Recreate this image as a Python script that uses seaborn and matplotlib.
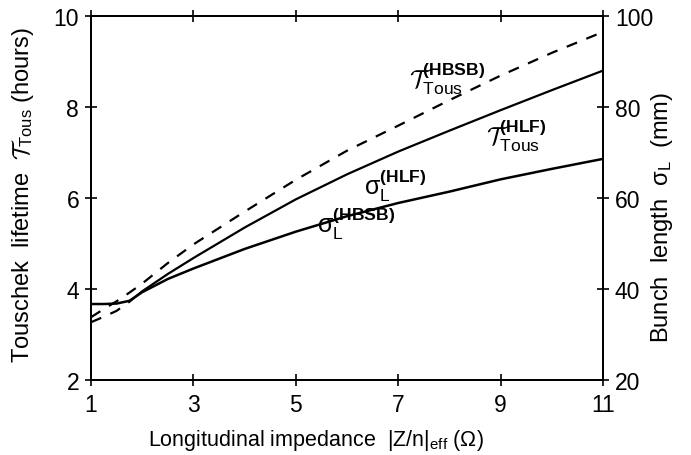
import matplotlib
matplotlib.use("Agg")
import matplotlib.pyplot as plt
import seaborn as sns
import pandas as pd

# ---- data ----
impedance = [1, 1.25, 1.5, 1.75, 2, 2.5, 3, 4, 5, 6, 7, 8, 9, 10, 11]
tau_hbsb = [3.38, 3.56, 3.73, 3.92, 4.12, 4.57, 4.98, 5.70, 6.40, 7.04, 7.59, 8.15, 8.69, 9.19, 9.65]
tau_hlf = [3.27, 3.39, 3.52, 3.72, 3.95, 4.33, 4.68, 5.35, 5.97, 6.52, 7.02, 7.48, 7.93, 8.37, 8.80]
sigma_mm = [36.7, 36.7, 36.8, 37.4, 39.3, 42.2, 44.5, 48.8, 52.6, 56.0, 58.9, 61.4, 64.1, 66.4, 68.6]
below_threshold = 4  # first points of tau_hlf drawn dashed (indices 0..3)

x_ticks = [1, 3, 5, 7, 9, 11]
y_left_ticks = [2, 4, 6, 8, 10]
y_right_ticks = [20, 40, 60, 80, 100]

sns.set_style("ticks")
plt.rcParams["font.family"] = ["Liberation Sans", "DejaVu Sans"]
plt.rcParams["mathtext.fontset"] = "custom"
plt.rcParams["mathtext.rm"] = "Liberation Sans"
plt.rcParams["mathtext.it"] = "Liberation Sans:italic"
plt.rcParams["mathtext.bf"] = "Liberation Sans:bold"
plt.rcParams["mathtext.cal"] = "cmsy10"
plt.rcParams["text.color"] = "black"
plt.rcParams["axes.labelcolor"] = "black"
plt.rcParams["xtick.color"] = "black"
plt.rcParams["ytick.color"] = "black"

fig = plt.figure(figsize=(6.91, 4.56), dpi=100)
ax = fig.add_axes([91/691, 1-381/456, (603-91)/691, (381-17)/456])
ax2 = ax.twinx()

df_hbsb = pd.DataFrame({"x": impedance, "y": tau_hbsb})
df_hlf = pd.DataFrame({"x": impedance, "y": tau_hlf})
df_sig = pd.DataFrame({"x": impedance, "y": sigma_mm})

sns.lineplot(data=df_hbsb, x="x", y="y", ax=ax, color="black", lw=1.6,
             linestyle=(0, (5, 4.5)))
sns.lineplot(data=df_hlf.iloc[below_threshold-1:], x="x", y="y", ax=ax, color="black", lw=1.6)
sns.lineplot(data=df_hlf.iloc[:below_threshold], x="x", y="y", ax=ax, color="black", lw=1.6,
             linestyle=(0, (5, 4.5)))
sns.lineplot(data=df_sig, x="x", y="y", ax=ax2, color="black", lw=1.8)

ax.set_xlim(1, 11)
ax.set_ylim(2, 10)
ax2.set_ylim(20, 100)
ax.set_xticks(x_ticks)
ax.set_yticks(y_left_ticks)
ax2.set_yticks(y_right_ticks)
ax.set_xticklabels([str(v) for v in x_ticks])
ax.set_yticklabels([str(v) for v in y_left_ticks])
ax2.set_yticklabels([str(v) for v in y_right_ticks])

for a in (ax, ax2):
    for s in a.spines.values():
        s.set_visible(True)
        s.set_linewidth(1.4)
        s.set_color("black")
ax.tick_params(axis="both", direction="inout", length=9, width=1.2, labelsize=16.5,
               colors="black", top=True, pad=4)
ax.tick_params(axis="x", top=True, labeltop=False, pad=5)
ax2.tick_params(axis="y", direction="inout", length=9, width=1.2, labelsize=16.5, pad=4,
                colors="black")

ax.set_xlabel(r"Longitudinal impedance  $\mathrm{|Z/n|}_{\rm eff}$ ($\Omega$)", fontsize=15.5,
              color="black")
ax.xaxis.set_label_coords(0.44, -0.128)
ax.set_ylabel(r"Touschek  lifetime  $\mathcal{T}_{\rm Tous}$ (hours)", fontsize=17, color="black")
ax.yaxis.set_label_coords(-0.108, 0.51)
ax2.set_ylabel(r"Bunch  length  $\mathrm{\sigma}_{\rm L}$  (mm)", fontsize=17, rotation=90,
               color="black")
ax2.yaxis.set_label_coords(1.09, 0.45)

lab_kw = dict(ha="center", va="center", fontsize=18, color="black")
ax.text(7.95, 8.65, r"$\mathcal{T}_{\rm Tous}^{\rm \mathbf{(HBSB)}}$", **lab_kw)
ax.text(9.3, 7.40, r"$\mathcal{T}_{\rm Tous}^{\rm \mathbf{(HLF)}}$", **lab_kw)
ax.text(6.94, 6.30, r"$\mathrm{\sigma}_{\rm L}^{\rm \mathbf{(HLF)}}$", **lab_kw)
ax.text(6.18, 5.45, r"$\mathrm{\sigma}_{\rm L}^{\rm \mathbf{(HBSB)}}$", **lab_kw)

fig.savefig("out.png", dpi=100)
